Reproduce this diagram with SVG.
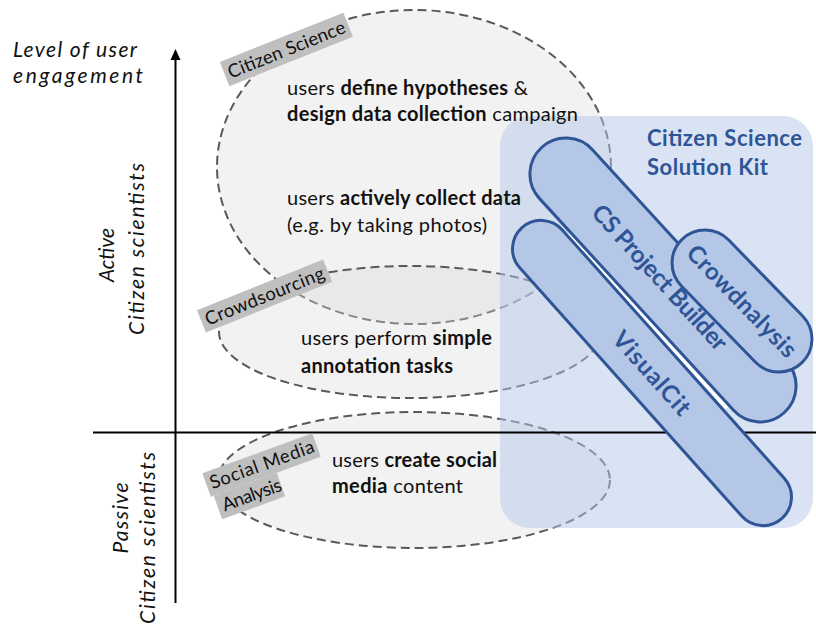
<svg xmlns="http://www.w3.org/2000/svg" width="816" height="628" viewBox="0 0 816 628">
<defs>
<style>
.ell{fill:#d9d9d9;fill-opacity:0.35;stroke:#595959;stroke-width:2;stroke-dasharray:9 5}
.body{font-family:Lato,"Open Sans","Liberation Sans",sans-serif;font-size:20px;fill:#111}
.b{font-weight:bold}
.axis{font-family:Lato,"Open Sans","Liberation Sans",sans-serif;font-size:21px;font-style:italic;fill:#111}
.tag{fill:#bfbfbf}
.tagt{font-family:Lato,"Open Sans","Liberation Sans",sans-serif;font-size:18.5px;fill:#111}
.pill{fill:#b4c7e7;stroke:#2f5597;stroke-width:3}
.pillt{font-family:Lato,"Open Sans","Liberation Sans",sans-serif;font-size:24px;font-weight:bold;fill:#2f5597;text-anchor:middle}
.kitt{font-family:Lato,"Open Sans","Liberation Sans",sans-serif;font-size:22px;font-weight:bold;fill:#2f5597}
</style>
</defs>
<rect width="816" height="628" fill="#ffffff"/>

<g id="citizen-science-area">
<ellipse class="ell" cx="414" cy="167" rx="197" ry="157"/>
</g>
<g id="crowdsourcing-area">
<ellipse class="ell" cx="410" cy="332" rx="191" ry="66"/>
</g>
<g id="social-media-area">
<ellipse class="ell" cx="414" cy="480" rx="196" ry="68"/>
</g>

<g id="kit">
<rect x="500" y="116" width="313" height="412" rx="30" fill="#b4c7e7" fill-opacity="0.5"/>
<text class="kitt" x="647" y="145.5" textLength="155">Citizen Science</text>
<text class="kitt" x="647" y="174.5" textLength="121">Solution Kit</text>
</g>

<g id="connectors">
<line x1="175.5" y1="58" x2="175.5" y2="603" stroke="#000" stroke-width="2"/>
<polygon points="175.5,49 170.5,60 180.5,60" fill="#000"/>
<line x1="93" y1="432.5" x2="816" y2="432.5" stroke="#000" stroke-width="2"/>
</g>

<g id="pill-gap">
<line x1="568" y1="234.6" x2="727" y2="408" stroke="#ffffff" stroke-width="4"/>
</g>

<g id="visualcit" transform="translate(652,373) rotate(48.2)">
<rect class="pill" x="-195" y="-28.5" width="390" height="57" rx="28.5"/>
<text class="pillt" x="0" y="8.5" textLength="104">VisualCit</text>
</g>
<g id="cs-project-builder" transform="translate(663,280) rotate(47.5)">
<rect class="pill" x="-179.7" y="-36" width="359.4" height="72" rx="36"/>
<text class="pillt" x="-4" y="9" textLength="188">CS Project Builder</text>
</g>
<g id="crowdnalysis" transform="translate(742,301) rotate(45.8)">
<rect class="pill" x="-86" y="-33" width="172" height="66" rx="33"/>
<text class="pillt" x="0" y="8.5" textLength="146">Crowdnalysis</text>
</g>

<g id="label-citizen-science" transform="translate(286.4,49.4) rotate(-21.8)">
<rect class="tag" x="-66.5" y="-13" width="133" height="26"/>
<text class="tagt" x="0" y="6.5" text-anchor="middle" textLength="125">Citizen Science</text>
</g>
<g id="label-crowdsourcing" transform="translate(264.5,296) rotate(-22)">
<rect class="tag" x="-68" y="-12" width="136" height="24"/>
<text class="tagt" x="0" y="6.5" text-anchor="middle" textLength="127">Crowdsourcing</text>
</g>
<g id="label-social-media" transform="translate(265,476) rotate(-20)">
<rect class="tag" x="-58" y="-24" width="117" height="25"/>
<rect class="tag" x="-55" y="1" width="67" height="25"/>
<text class="tagt" x="-54" y="-5.5" textLength="110">Social Media</text>
<text class="tagt" x="-50" y="19.5" textLength="62">Analysis</text>
</g>

<g id="texts">
<text class="body" x="287" y="94.5" textLength="241">users <tspan class="b">define hypotheses</tspan> &amp;</text>
<text class="body" x="287" y="121" textLength="291"><tspan class="b">design data collection</tspan> campaign</text>
<text class="body" x="287" y="205" textLength="234">users <tspan class="b">actively collect data</tspan></text>
<text class="body" x="287" y="231.5" textLength="200">(e.g. by taking photos)</text>
<text class="body" x="301" y="345" textLength="191">users perform <tspan class="b">simple</tspan></text>
<text class="body b" x="301" y="373" textLength="152">annotation tasks</text>
<text class="body" x="332" y="466.5" textLength="165">users <tspan class="b">create social</tspan></text>
<text class="body" x="332" y="492.5" textLength="131"><tspan class="b">media</tspan> content</text>
</g>

<g id="axis-labels">
<text class="axis" x="13" y="57" textLength="124">Level of user</text>
<text class="axis" x="13" y="83" textLength="130">engagement</text>
<text class="axis" transform="translate(113.5,255) rotate(-90)" text-anchor="middle" textLength="54">Active</text>
<text class="axis" transform="translate(143.5,249) rotate(-90)" text-anchor="middle" textLength="172">Citizen scientists</text>
<text class="axis" transform="translate(128,518) rotate(-90)" text-anchor="middle" textLength="71">Passive</text>
<text class="axis" transform="translate(155,538) rotate(-90)" text-anchor="middle" textLength="172">Citizen scientists</text>
</g>
</svg>
